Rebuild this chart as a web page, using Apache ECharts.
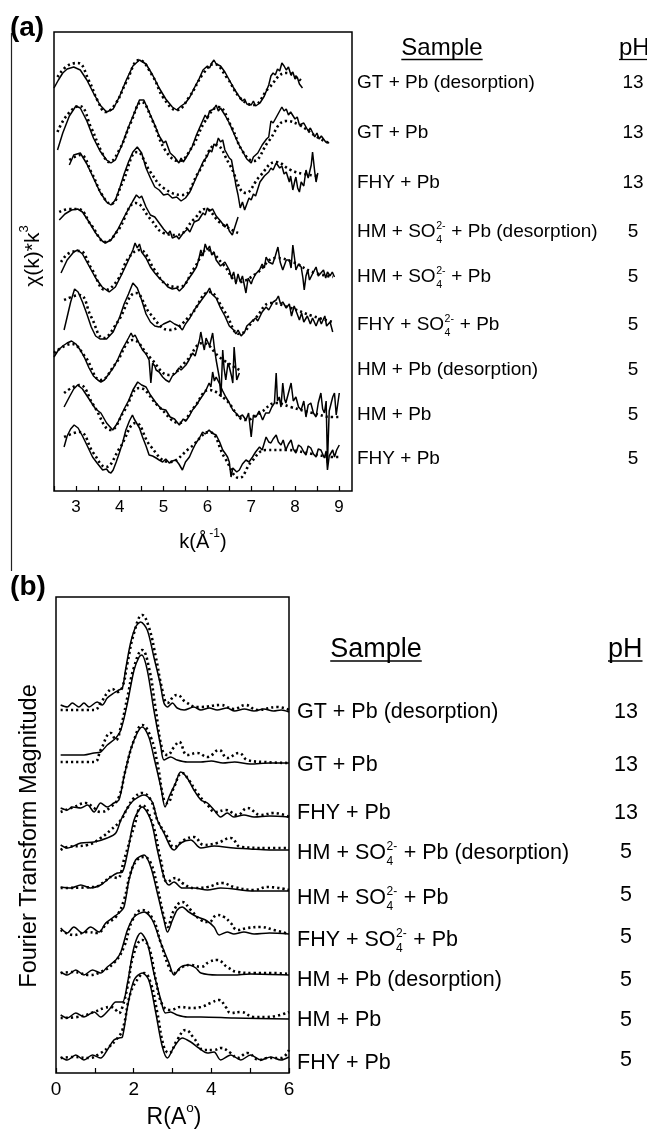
<!DOCTYPE html>
<html>
<head>
<meta charset="utf-8">
<script src="https://cdn.jsdelivr.net/npm/echarts@6/dist/echarts.min.js"></script>
<style>html,body{margin:0;padding:0;background:#fff}#c{width:647px;height:1133px}</style>
</head>
<body>
<div id="c"></div>
<script>
// ---------------- DATA ----------------
const samples = ['GT + Pb (desorption)', 'GT + Pb', 'FHY + Pb', 'HM + SO₄²⁻ + Pb (desorption)', 'HM + SO₄²⁻ + Pb', 'FHY + SO₄²⁻ + Pb', 'HM + Pb (desorption)', 'HM + Pb', 'FHY + Pb'];
const pHValues = ['13', '13', '13', '5', '5', '5', '5', '5', '5'];
const kTickLabels = [3, 4, 5, 6, 7, 8, 9];
const rTickLabels = [0, 2, 4, 6];

// vertical stacking offsets of each spectrum (arbitrary units)
const chiOffsets = [405, 358, 311, 266, 221, 179, 133, 86, 43];
const ftOffsets = [363, 310, 256, 223, 182, 139, 98, 54, 13];

// (a) chi(k)*k^3 experimental (solid), [k, value]
const chiExp1 = [[2.5,-2],[2.6,6],[2.7,13],[2.8,17],[2.95,19],[3.1,16],[3.25,6],[3.4,-7],[3.55,-19],[3.7,-26],[3.85,-23],[4.0,-10],[4.15,6],[4.3,20],[4.45,26],[4.6,22],[4.75,11],[4.9,-2],[5.05,-13],[5.2,-21],[5.3,-24],[5.4,-20],[5.5,-17],[5.6,-11],[5.7,-2],[5.8,6],[5.9,16],[6.0,20],[6.05,18],[6.1,23],[6.15,26],[6.2,22],[6.3,20],[6.4,14],[6.5,6],[6.6,-2],[6.7,-9],[6.8,-15],[6.85,-13],[6.9,-18],[7.0,-19],[7.05,-15],[7.1,-20],[7.2,-17],[7.3,-10],[7.4,1],[7.45,10],[7.5,13],[7.55,11],[7.6,17],[7.65,15],[7.7,23],[7.75,20],[7.8,16],[7.85,19],[7.9,12],[7.95,14],[8.0,7],[8.05,9],[8.1,2],[8.17,-2]];
const chiExp2 = [[2.58,-17],[2.7,0],[2.85,17],[3.0,27],[3.1,25],[3.25,12],[3.4,-5],[3.55,-18],[3.7,-27],[3.8,-30],[3.9,-27],[4.05,-12],[4.2,6],[4.35,22],[4.45,33],[4.55,33],[4.6,28],[4.7,18],[4.8,8],[4.9,-3],[5.0,-10],[5.05,-8],[5.15,-20],[5.25,-24],[5.35,-30],[5.4,-25],[5.45,-29],[5.55,-22],[5.65,-14],[5.75,-2],[5.85,8],[5.95,18],[6.0,14],[6.05,22],[6.15,24],[6.2,28],[6.25,22],[6.3,25],[6.4,18],[6.5,10],[6.6,0],[6.7,-10],[6.8,-18],[6.9,-26],[7.0,-30],[7.05,-24],[7.15,-20],[7.25,-12],[7.35,-6],[7.4,-4],[7.45,12],[7.5,10],[7.6,18],[7.7,26],[7.75,22],[7.8,24],[7.85,18],[7.9,21],[8.0,14],[8.05,16],[8.1,8],[8.2,10],[8.3,2],[8.35,5],[8.45,-4],[8.5,0],[8.55,-6],[8.6,-3],[8.7,-9],[8.78,-10]];
const chiExp3 = [[2.85,15],[2.95,25],[3.1,27],[3.25,16],[3.4,2],[3.55,-12],[3.7,-22],[3.8,-25],[3.9,-20],[4.0,-8],[4.1,6],[4.2,18],[4.3,28],[4.4,33],[4.5,27],[4.6,12],[4.7,2],[4.8,-7],[4.9,-10],[5.0,-15],[5.1,-14],[5.2,-18],[5.3,-17],[5.4,-21],[5.5,-18],[5.6,-12],[5.7,-2],[5.8,8],[5.9,18],[6.0,24],[6.05,30],[6.1,28],[6.15,36],[6.2,34],[6.25,42],[6.3,38],[6.35,40],[6.4,30],[6.5,22],[6.55,20],[6.6,8],[6.65,-5],[6.7,-15],[6.75,-28],[6.8,-22],[6.85,-30],[6.9,-24],[6.95,-18],[7.0,-20],[7.05,-14],[7.1,-16],[7.2,-2],[7.3,4],[7.4,8],[7.45,12],[7.5,10],[7.57,17],[7.65,12],[7.7,14],[7.75,6],[7.8,8],[7.87,-2],[7.9,4],[7.95,-10],[8.0,0],[8.02,3],[8.06,-8],[8.1,-12],[8.14,-2],[8.17,0],[8.2,-6],[8.25,10],[8.3,2],[8.32,0],[8.37,15],[8.4,28],[8.45,8],[8.48,-2],[8.52,7]];
const chiExp4 = [[2.62,5],[2.75,11],[2.9,15],[3.04,16],[3.15,13],[3.3,3],[3.45,-8],[3.6,-16],[3.67,-18],[3.8,-15],[3.95,-5],[4.1,8],[4.2,16],[4.3,24],[4.38,30],[4.45,27],[4.5,29],[4.6,18],[4.7,10],[4.8,8],[4.9,2],[5.0,-4],[5.1,-9],[5.15,-6],[5.2,-13],[5.3,-11],[5.35,-14],[5.45,-8],[5.55,-4],[5.6,-7],[5.7,3],[5.8,5],[5.9,12],[5.95,10],[6.0,17],[6.05,14],[6.12,16],[6.2,9],[6.3,4],[6.4,-2],[6.45,1],[6.5,-6],[6.57,-10],[6.62,-3],[6.7,8]];
const chiExp5 = [[2.66,-3],[2.8,10],[2.95,18],[3.04,20],[3.15,16],[3.3,4],[3.45,-8],[3.6,-17],[3.76,-22],[3.9,-17],[4.05,-4],[4.2,10],[4.3,20],[4.35,27],[4.4,22],[4.45,26],[4.5,18],[4.6,12],[4.7,3],[4.8,-3],[4.9,-8],[5.0,-12],[5.1,-17],[5.2,-19],[5.3,-18],[5.36,-21],[5.45,-17],[5.55,-10],[5.65,-4],[5.75,3],[5.8,10],[5.85,20],[5.9,14],[5.95,26],[6.0,20],[6.05,24],[6.1,15],[6.15,18],[6.2,10],[6.3,4],[6.4,8],[6.5,0],[6.55,-8],[6.6,-2],[6.65,-14],[6.7,-4],[6.75,-12],[6.8,-6],[6.88,-23],[6.93,-8],[7.0,-14],[7.03,-10],[7.1,-4],[7.19,0],[7.25,6],[7.3,2],[7.34,13],[7.4,8],[7.49,6],[7.55,14],[7.61,23],[7.66,8],[7.72,0],[7.8,10],[7.87,10],[7.91,2],[7.95,25],[8.0,8],[8.02,0],[8.08,6],[8.14,3],[8.18,-8],[8.21,-20],[8.25,-6],[8.29,0],[8.33,-10],[8.36,-12],[8.42,-2],[8.48,3],[8.53,-6],[8.59,-3],[8.65,0],[8.7,-8],[8.74,-2],[8.8,-6],[8.85,-2],[8.9,-7]];
const chiExp6 = [[2.73,-18],[2.8,-5],[2.88,10],[2.97,23],[3.05,20],[3.15,10],[3.25,-2],[3.35,-15],[3.45,-24],[3.55,-27],[3.7,-27],[3.85,-20],[4.0,-5],[4.1,8],[4.2,18],[4.3,29],[4.4,24],[4.5,12],[4.6,-2],[4.7,-10],[4.8,-14],[4.9,-15],[5.0,-12],[5.1,-10],[5.15,-9],[5.25,-12],[5.35,-14],[5.43,-18],[5.5,-12],[5.6,-6],[5.7,2],[5.8,8],[5.9,14],[6.0,20],[6.05,24],[6.1,18],[6.2,14],[6.3,4],[6.4,-4],[6.5,-14],[6.6,-18],[6.65,-22],[6.7,-18],[6.77,-24],[6.85,-20],[6.9,-14],[7.0,-10],[7.1,-6],[7.15,-9],[7.25,0],[7.34,5],[7.4,2],[7.5,10],[7.57,12],[7.62,16],[7.67,8],[7.72,10],[7.8,4],[7.87,8],[7.92,-4],[7.98,6],[8.05,-2],[8.1,-8],[8.15,-1],[8.2,-10],[8.28,-4],[8.35,-12],[8.4,-6],[8.48,-14],[8.55,-6],[8.6,-12],[8.68,-4],[8.72,-14],[8.8,-10],[8.86,-20]];
const chiExp7 = [[2.5,1],[2.6,8],[2.7,12],[2.8,15],[2.9,17],[3.0,14],[3.1,8],[3.2,0],[3.3,-10],[3.4,-18],[3.5,-22],[3.57,-24],[3.65,-22],[3.75,-16],[3.85,-10],[3.95,-2],[4.05,8],[4.15,16],[4.2,20],[4.26,25],[4.3,21],[4.35,23],[4.45,14],[4.52,8],[4.6,4],[4.67,-2],[4.71,-25],[4.75,-5],[4.8,-8],[4.83,-12],[4.9,-14],[4.98,-19],[5.05,-22],[5.13,-24],[5.2,-18],[5.28,-15],[5.35,-10],[5.4,-12],[5.51,-7],[5.58,-2],[5.66,5],[5.72,2],[5.82,18],[5.85,26],[5.9,14],[5.93,8],[5.97,20],[6.0,21],[6.05,12],[6.12,25],[6.16,10],[6.2,-2],[6.27,-19],[6.31,-39],[6.35,8],[6.38,-10],[6.42,-22],[6.47,-5],[6.5,-9],[6.55,-18],[6.58,-25],[6.61,11],[6.67,-22],[6.73,-15]];
const chiExp8 = [[2.73,-2],[2.85,8],[2.95,16],[3.04,20],[3.15,16],[3.3,6],[3.45,-4],[3.57,-8],[3.7,-18],[3.84,-25],[3.95,-18],[4.1,-4],[4.21,5],[4.3,15],[4.41,23],[4.5,20],[4.6,18],[4.7,10],[4.83,2],[4.95,-4],[5.05,-5],[5.15,-12],[5.25,-14],[5.36,-20],[5.45,-14],[5.51,-16],[5.6,-10],[5.66,-5],[5.75,0],[5.82,5],[5.9,10],[5.97,15],[6.04,22],[6.08,18],[6.12,33],[6.16,24],[6.2,28],[6.27,22],[6.35,14],[6.42,8],[6.5,2],[6.58,-5],[6.65,-8],[6.73,-12],[6.8,-10],[6.88,-15],[6.94,-8],[7.0,-32],[7.05,-10],[7.11,-12],[7.18,-6],[7.26,-15],[7.33,-8],[7.41,-8],[7.47,-2],[7.53,2],[7.57,32],[7.6,4],[7.64,8],[7.68,-2],[7.72,22],[7.76,6],[7.79,2],[7.85,12],[7.91,22],[7.96,4],[8.02,8],[8.08,-2],[8.14,-5],[8.2,4],[8.25,-12],[8.3,0],[8.36,2],[8.42,-8],[8.48,-12],[8.53,2],[8.59,12],[8.63,-4],[8.67,-8],[8.71,4],[8.74,-58],[8.78,-6],[8.82,-8],[8.86,8],[8.9,12],[8.94,-10],[8.97,-12],[9.01,12]];
const chiExp9 = [[2.73,1],[2.8,12],[2.88,19],[2.96,23],[3.05,20],[3.15,12],[3.25,3],[3.38,-9],[3.5,-16],[3.61,-22],[3.7,-21],[3.75,-24],[3.8,-25],[3.85,-22],[3.92,-14],[3.99,-5],[4.07,6],[4.14,18],[4.22,27],[4.29,33],[4.33,29],[4.37,30],[4.45,20],[4.52,11],[4.6,2],[4.67,-7],[4.75,-8],[4.83,-10],[4.9,-12],[4.98,-14],[5.05,-11],[5.13,-15],[5.2,-13],[5.28,-12],[5.35,-16],[5.43,-22],[5.5,-14],[5.59,-9],[5.66,-2],[5.74,5],[5.82,10],[5.89,16],[5.95,14],[6.04,18],[6.1,15],[6.2,13],[6.28,6],[6.35,-2],[6.4,-5],[6.46,-9],[6.5,-14],[6.54,-29],[6.58,-20],[6.61,-19],[6.67,-24],[6.73,-22],[6.8,-16],[6.88,-12],[6.95,-14],[7.03,-9],[7.1,-4],[7.19,1],[7.25,-2],[7.34,11],[7.4,6],[7.45,5],[7.5,9],[7.57,13],[7.62,6],[7.68,3],[7.73,8],[7.79,-2],[7.85,4],[7.91,8],[7.96,-1],[8.02,-5],[8.08,3],[8.14,1],[8.2,-4],[8.25,-7],[8.3,2],[8.36,0],[8.42,-6],[8.48,-9],[8.53,-1],[8.59,-2],[8.63,-6],[8.67,-10],[8.71,-3],[8.74,-22],[8.78,-8],[8.82,-5],[8.86,-2],[8.9,-9],[8.95,-2],[9.01,3]];

// (a) fits (dotted)
const chiFit1 = [[2.58,9],[2.8,20],[3.04,23],[3.3,5],[3.5,-15],[3.68,-26],[3.9,-18],[4.15,4],[4.45,26],[4.75,10],[5.0,-12],[5.3,-24],[5.6,-10],[5.9,12],[6.15,22],[6.45,8],[6.75,-12],[7.05,-19],[7.4,-2],[7.8,13],[8.17,4]];
const chiFit2 = [[2.58,1],[2.8,18],[3.08,27],[3.35,5],[3.6,-20],[3.76,-29],[4.0,-16],[4.25,10],[4.5,31],[4.75,12],[5.05,-18],[5.35,-28],[5.65,-14],[5.95,12],[6.25,26],[6.55,6],[6.8,-18],[7.05,-28],[7.4,-8],[7.8,12],[8.1,8],[8.5,-4],[8.78,-10]];
const chiFit3 = [[2.85,20],[3.1,25],[3.35,8],[3.6,-15],[3.8,-24],[4.05,-4],[4.4,28],[4.7,8],[5.0,-8],[5.43,-15],[5.8,8],[6.2,35],[6.5,16],[6.88,-13],[7.2,4],[7.57,18],[7.9,10],[8.2,6],[8.52,4]];
const chiFit4 = [[2.62,13],[2.85,16],[3.05,16],[3.35,0],[3.68,-17],[3.95,-6],[4.37,22],[4.7,6],[5.0,-8],[5.3,-10],[5.7,6],[5.95,16],[6.3,2],[6.7,-8]];
const chiFit5 = [[2.66,8],[2.85,17],[3.08,19],[3.35,2],[3.68,-20],[3.95,-10],[4.2,12],[4.45,20],[4.8,0],[5.05,-14],[5.36,-17],[5.7,2],[6.0,20],[6.35,6],[6.73,-12],[7.1,-4],[7.57,12],[7.95,8],[8.4,-2],[8.86,-7]];
const chiFit6 = [[2.73,12],[3.08,17],[3.35,-5],[3.63,-26],[3.95,-10],[4.37,19],[4.7,-2],[5.13,-18],[5.6,-4],[6.04,20],[6.4,0],[6.73,-22],[7.1,-6],[7.45,9],[7.9,4],[8.4,-4],[8.86,-10]];
const chiFit7 = [[2.5,5],[2.9,14],[3.2,2],[3.57,-22],[3.9,-6],[4.3,18],[4.7,0],[5.13,-17],[5.5,-4],[5.9,15],[6.3,0],[6.73,-12]];
const chiFit8 = [[2.73,12],[3.08,20],[3.4,0],[3.8,-25],[4.1,-6],[4.45,17],[4.9,-2],[5.36,-18],[5.7,-2],[6.04,15],[6.4,6],[6.88,-15],[7.2,-8],[7.57,2],[7.9,-2],[8.4,-8],[8.86,-12],[9.01,-12]];
const chiFit9 = [[2.73,11],[3.08,16],[3.4,-5],[3.68,-19],[4.0,0],[4.37,25],[4.7,2],[5.13,-14],[5.6,0],[6.04,16],[6.4,-10],[6.73,-30],[7.0,-14],[7.34,-2],[7.8,-2],[8.4,-6],[8.86,-9],[9.01,-9]];

// (b) Fourier transform magnitude, experimental (solid), [R, value]
const ftExp1 = [[0.12,5],[0.29,3],[0.42,7],[0.59,3],[0.72,7],[0.85,3],[1.06,8],[1.19,5],[1.32,12],[1.49,17],[1.62,20],[1.71,22],[1.79,40],[1.92,67],[2.05,83],[2.18,88],[2.35,80],[2.52,53],[2.68,27],[2.78,7],[2.87,3],[3.0,7],[3.12,2],[3.3,0],[3.55,3],[3.73,0],[3.95,2],[4.15,0],[4.4,2],[4.6,-1],[4.85,1],[5.1,-1],[5.35,1],[5.6,-1],[5.8,0],[6.0,-2]];
const ftExp2 = [[0.12,8],[0.72,8],[0.98,10],[1.15,11],[1.32,18],[1.54,25],[1.67,33],[1.84,60],[2.01,93],[2.14,106],[2.21,108],[2.35,93],[2.52,53],[2.7,16],[2.78,3],[2.95,6],[3.12,3],[3.38,1],[3.73,1],[4.0,2],[4.3,0],[4.6,1],[5.0,-1],[5.5,0],[6.0,0]];
const ftExp3 = [[0.12,9],[0.29,7],[0.42,10],[0.64,9],[0.81,12],[0.98,5],[1.15,14],[1.32,10],[1.49,14],[1.62,17],[1.75,40],[1.92,67],[2.09,84],[2.22,90],[2.39,80],[2.52,60],[2.7,30],[2.81,10],[2.91,20],[3.08,34],[3.21,45],[3.38,39],[3.55,27],[3.73,17],[3.9,14],[4.07,7],[4.24,0],[4.41,4],[4.58,0],[4.84,2],[5.1,0],[5.5,1],[6.0,0]];
const ftExp4 = [[0.12,5],[0.29,2],[0.64,7],[0.98,8],[1.32,12],[1.54,17],[1.67,30],[1.84,42],[2.01,50],[2.27,55],[2.48,48],[2.61,30],[2.78,17],[2.95,3],[3.04,0],[3.21,7],[3.47,10],[3.73,2],[4.07,4],[4.58,2],[5.0,1],[5.5,0],[6.0,0]];
const ftExp5 = [[0.12,4],[0.38,3],[0.64,6],[0.89,3],[1.15,6],[1.41,14],[1.58,18],[1.71,19],[1.84,38],[2.01,71],[2.22,84],[2.44,71],[2.61,41],[2.78,14],[2.91,6],[3.04,9],[3.25,3],[3.55,3],[3.9,1],[4.24,3],[5.1,0],[6.0,0]];
const ftExp6 = [[0.12,6],[0.29,1],[0.46,7],[0.68,1],[0.89,7],[1.11,2],[1.28,11],[1.45,16],[1.62,21],[1.75,27],[1.88,54],[2.05,74],[2.27,79],[2.44,67],[2.61,41],[2.78,14],[2.87,2],[3.0,14],[3.12,24],[3.25,27],[3.42,22],[3.64,17],[3.85,14],[4.07,7],[4.2,-1],[4.41,2],[4.58,0],[4.84,2],[5.1,0],[5.5,1],[6.0,0]];
const ftExp7 = [[0.12,3],[0.29,0],[0.51,5],[0.72,0],[0.94,5],[1.15,2],[1.32,8],[1.54,15],[1.67,23],[1.84,45],[2.01,58],[2.27,63],[2.48,55],[2.7,32],[2.91,12],[3.04,0],[3.21,8],[3.42,10],[3.6,7],[3.73,2],[4.15,0],[4.58,0],[5.0,1],[6.0,0]];
const ftExp8 = [[0.12,4],[0.29,1],[0.51,6],[0.72,2],[0.98,7],[1.15,2],[1.36,9],[1.54,17],[1.71,17],[1.84,36],[2.01,72],[2.18,86],[2.35,76],[2.52,46],[2.7,19],[2.82,6],[2.95,7],[3.12,4],[3.38,2],[3.73,2],[4.58,1],[6.0,0]];
const ftExp9 = [[0.12,3],[0.29,0],[0.51,5],[0.72,0],[0.94,5],[1.15,2],[1.32,10],[1.49,20],[1.62,22],[1.71,23],[1.84,53],[2.01,80],[2.22,87],[2.39,80],[2.57,47],[2.74,13],[2.87,2],[3.04,13],[3.25,22],[3.47,18],[3.68,12],[3.9,7],[4.07,8],[4.24,0],[4.5,5],[4.76,0],[5.01,5],[5.27,0],[5.53,3],[5.79,0],[6.0,3]];

// (b) fits (dotted)
const ftFit1 = [[0.12,0],[0.98,0],[1.15,7],[1.32,17],[1.45,21],[1.58,18],[1.71,23],[1.84,47],[2.01,77],[2.22,95],[2.39,83],[2.57,53],[2.74,20],[2.87,7],[3.04,14],[3.12,15],[3.34,8],[3.64,3],[3.73,3],[4.24,5],[4.58,1],[4.88,5],[5.18,0],[5.7,3],[6.0,0]];
const ftFit2 = [[0.12,1],[0.98,1],[1.15,13],[1.41,30],[1.54,23],[1.67,36],[1.84,66],[2.01,96],[2.22,113],[2.39,96],[2.57,53],[2.74,13],[2.87,8],[3.04,16],[3.17,21],[3.38,8],[3.64,10],[3.9,6],[4.2,13],[4.41,5],[4.71,10],[4.93,3],[5.36,1],[6.0,0]];
const ftFit3 = [[0.12,5],[0.46,10],[0.76,14],[0.98,9],[1.15,5],[1.41,10],[1.62,20],[1.79,47],[2.01,77],[2.22,92],[2.44,80],[2.61,54],[2.78,17],[2.87,14],[3.04,30],[3.25,44],[3.42,37],[3.64,24],[3.9,12],[4.11,5],[4.37,7],[4.67,2],[4.93,9],[5.27,2],[5.61,4],[6.0,0]];
const ftFit4 = [[0.12,0],[0.29,3],[0.81,5],[1.15,12],[1.41,20],[1.67,30],[1.84,42],[2.01,52],[2.22,57],[2.44,50],[2.61,30],[2.87,13],[3.04,3],[3.3,10],[3.55,13],[3.81,5],[4.15,7],[4.5,12],[4.76,3],[5.44,2],[6.0,2]];
const ftFit5 = [[0.12,3],[0.98,4],[1.24,9],[1.41,14],[1.58,13],[1.75,31],[2.01,64],[2.22,86],[2.48,68],[2.7,31],[2.87,9],[3.08,13],[3.25,8],[3.55,3],[3.9,4],[4.28,8],[4.58,4],[5.1,1],[5.44,4],[6.0,1]];
const ftFit6 = [[0.12,4],[0.46,-1],[0.81,2],[1.06,1],[1.32,11],[1.54,17],[1.75,34],[1.92,61],[2.09,74],[2.27,77],[2.44,71],[2.61,47],[2.78,17],[2.87,7],[3.04,24],[3.25,32],[3.47,24],[3.73,14],[3.94,12],[4.15,19],[4.33,17],[4.5,11],[4.67,4],[4.93,6],[5.27,7],[5.61,4],[6.0,0]];
const ftFit7 = [[0.12,2],[0.46,3],[0.85,0],[1.15,3],[1.49,12],[1.75,28],[1.97,55],[2.22,65],[2.48,57],[2.7,32],[2.91,8],[3.04,2],[3.25,8],[3.47,10],[3.73,8],[3.94,13],[4.15,15],[4.41,8],[4.67,3],[5.1,2],[5.53,2],[6.0,1]];
const ftFit8 = [[0.12,1],[0.55,2],[0.98,7],[1.24,11],[1.41,12],[1.54,9],[1.62,6],[1.71,12],[1.84,32],[2.01,66],[2.22,79],[2.39,72],[2.57,39],[2.74,14],[2.95,9],[3.21,12],[3.47,11],[3.73,12],[3.98,16],[4.2,19],[4.37,12],[4.5,6],[4.76,7],[5.1,2],[5.44,2],[6.0,7]];
const ftFit9 = [[0.12,2],[0.46,3],[0.85,2],[1.15,7],[1.36,13],[1.54,20],[1.71,30],[1.92,67],[2.14,83],[2.27,87],[2.44,77],[2.61,47],[2.78,13],[2.91,7],[3.12,20],[3.34,30],[3.55,22],[3.81,10],[4.07,10],[4.24,12],[4.5,7],[4.67,2],[4.93,7],[5.23,0],[5.44,2],[5.79,2],[6.0,10]];

const chiExp = [chiExp1, chiExp2, chiExp3, chiExp4, chiExp5, chiExp6, chiExp7, chiExp8, chiExp9];
const chiFit = [chiFit1, chiFit2, chiFit3, chiFit4, chiFit5, chiFit6, chiFit7, chiFit8, chiFit9];
const ftExp = [ftExp1, ftExp2, ftExp3, ftExp4, ftExp5, ftExp6, ftExp7, ftExp8, ftExp9];
const ftFit = [ftFit1, ftFit2, ftFit3, ftFit4, ftFit5, ftFit6, ftFit7, ftFit8, ftFit9];

// ---------------- RENDER ----------------
const FONT = '"Liberation Sans", Arial, Helvetica, sans-serif';
const mctx = document.createElement('canvas').getContext('2d');
function fontStr(size, bold) { return (bold ? 'bold ' : '') + size + 'px ' + FONT; }
function tw(t, size, bold) { mctx.font = fontStr(size, bold); return mctx.measureText(t).width; }

// lays out a run of text segments; supports superscripts (dy) and stacked sup/sub
function textRun(x, y, segs, align, rotation) {
  let w = 0; const children = [];
  const placed = [];
  segs.forEach(s => {
    if (s.stack) {
      const ws = Math.max(tw(s.stack[0], s.size), tw(s.stack[1], s.size));
      placed.push({ x: w, s }); w += ws + 1;
    } else {
      placed.push({ x: w, s }); w += tw(s.t, s.size, s.bold);
    }
  });
  const start = align === 'center' ? -w / 2 : (align === 'right' ? -w : 0);
  placed.forEach(p => {
    const s = p.s;
    if (s.stack) {
      children.push({ type: 'text', x: start + p.x + 0.5, y: s.supDy, style: { text: s.stack[0], font: fontStr(s.size), fill: '#000', textAlign: 'left', textVerticalAlign: 'middle' } });
      children.push({ type: 'text', x: start + p.x + 0.5, y: s.subDy, style: { text: s.stack[1], font: fontStr(s.size), fill: '#000', textAlign: 'left', textVerticalAlign: 'middle' } });
    } else {
      children.push({ type: 'text', x: start + p.x, y: s.dy || 0, style: { text: s.t, font: fontStr(s.size, s.bold), fill: '#000', textAlign: 'left', textVerticalAlign: 'middle' } });
    }
  });
  return { type: 'group', x, y, rotation: rotation || 0, silent: true, children };
}

function sampleRun(x, y, label, size) {
  const mark = '₄²⁻';
  if (label.indexOf(mark) < 0) return textRun(x, y, [{ t: label, size }], 'left');
  const parts = label.split(mark);
  const small = Math.round(size * 0.56 * 10) / 10;
  return textRun(x, y, [
    { t: parts[0], size },
    { stack: ['2-', '4'], size: small, supDy: -size * 0.3, subDy: size * 0.42 },
    { t: parts[1], size }
  ], 'left');
}

function underlined(x, y, text, size, align, ulY) {
  const w = tw(text, size);
  const x0 = align === 'center' ? x - w / 2 : x;
  return [
    { type: 'text', x, y, silent: true, style: { text, font: fontStr(size), fill: '#000', textAlign: align, textVerticalAlign: 'middle' } },
    { type: 'line', silent: true, shape: { x1: x0, y1: ulY, x2: x0 + w, y2: ulY }, style: { stroke: '#000', lineWidth: 1.3 } }
  ];
}

const graphics = [];
// panel letters
graphics.push(textRun(27, 28, [{ t: '(a)', size: 28, bold: true }], 'center'));
graphics.push(textRun(28, 587, [{ t: '(b)', size: 28, bold: true }], 'center'));
// left vertical rule
graphics.push({ type: 'line', silent: true, shape: { x1: 11.5, y1: 33, x2: 11.5, y2: 571 }, style: { stroke: '#222', lineWidth: 1.2 } });

// axis titles
graphics.push(textRun(203, 542, [{ t: 'k(Å', size: 20 }, { t: '-1', size: 12, dy: -8 }, { t: ')', size: 20 }], 'center'));
graphics.push(textRun(174, 1118, [{ t: 'R(A', size: 23 }, { t: 'o', size: 13.5, dy: -10 }, { t: ')', size: 23 }], 'center'));
graphics.push(textRun(33, 256, [{ t: 'χ(k)*k', size: 21 }, { t: '3', size: 13, dy: -9 }], 'center', Math.PI / 2));
graphics.push(textRun(30, 836, [{ t: 'Fourier Transform Magnitude', size: 23.5 }], 'center', Math.PI / 2));

// headers
graphics.push(...underlined(442, 48, 'Sample', 24, 'center', 59.5));
graphics.push(...underlined(619, 48, 'pH', 24, 'left', 59.5));
graphics.push(...underlined(376, 650, 'Sample', 27, 'center', 661));
graphics.push(...underlined(608, 650, 'pH', 27, 'left', 661));

// sample labels + pH
const aLabelY = [83, 133, 183, 232, 277, 325, 370, 415, 459];
const bLabelY = [712, 765, 813, 853, 898, 940, 980, 1020, 1063];
const bPhY = [712, 765, 813, 852, 895, 937, 980, 1020, 1060];
samples.forEach((s, i) => {
  graphics.push(sampleRun(357, aLabelY[i], s, 19));
  graphics.push(textRun(633, aLabelY[i], [{ t: pHValues[i], size: 19 }], 'center'));
  graphics.push(sampleRun(297, bLabelY[i], s, 21.5));
  graphics.push(textRun(626, bPhY[i], [{ t: pHValues[i], size: 21.5 }], 'center'));
});

const series = [];
function addSeries(list, offsets, axisIdx, solid) {
  list.forEach((d, i) => {
    series.push({
      type: 'line', xAxisIndex: axisIdx, yAxisIndex: axisIdx,
      data: d.map(p => [p[0], p[1] + offsets[i]]),
      symbol: 'none', showSymbol: false, silent: true,
      smooth: solid ? (axisIdx === 1 ? 0.3 : false) : 0.45,
      lineStyle: solid ? { color: '#000', width: 1.5 } : { color: '#000', width: 2.6, type: [2.2, 3] },
      z: solid ? 3 : 2
    });
  });
}
addSeries(chiExp, chiOffsets, 0, true);
addSeries(chiFit, chiOffsets, 0, false);
addSeries(ftExp, ftOffsets, 1, true);
addSeries(ftFit, ftOffsets, 1, false);

const axisCommon = {
  type: 'value', axisLine: { show: false }, splitLine: { show: false },
  axisTick: { inside: true, length: 5, lineStyle: { color: '#000', width: 1.2 } }
};

const option = {
  animation: false,
  backgroundColor: '#fff',
  grid: [
    { left: 54, top: 32, width: 298, height: 459, show: true, borderColor: '#000', borderWidth: 1.5, backgroundColor: 'transparent' },
    { left: 56, top: 597, width: 233, height: 476, show: true, borderColor: '#000', borderWidth: 1.5, backgroundColor: 'transparent' }
  ],
  xAxis: [
    Object.assign({}, axisCommon, { gridIndex: 0, min: 2.5, max: 9.3, interval: 0.5,
      axisLabel: { color: '#000', fontSize: 17, fontFamily: FONT, margin: 8, showMaxLabel: false,
        formatter: v => kTickLabels.includes(v) ? String(v) : '' } }),
    Object.assign({}, axisCommon, { gridIndex: 1, min: 0, max: 6, interval: 1,
      axisLabel: { color: '#000', fontSize: 19, fontFamily: FONT, margin: 7,
        formatter: v => rTickLabels.includes(v) ? String(v) : '' } })
  ],
  yAxis: [
    { type: 'value', gridIndex: 0, min: 0, max: 459, show: false },
    { type: 'value', gridIndex: 1, min: 0, max: 476, show: false }
  ],
  series,
  graphic: graphics
};

const chart = echarts.init(document.getElementById('c'), null, { renderer: 'canvas' });
chart.setOption(option);
</script>
</body>
</html>
